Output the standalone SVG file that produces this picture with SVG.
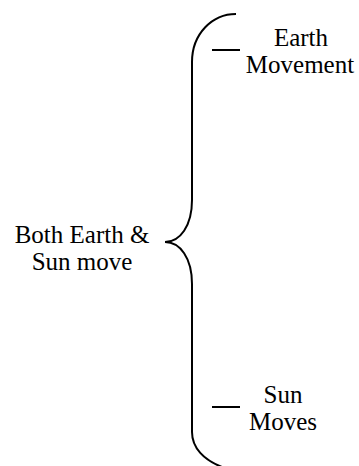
<svg xmlns="http://www.w3.org/2000/svg" width="359" height="466" viewBox="0 0 359 466">
<style>
text{font-family:"Liberation Serif","Times New Roman",serif;font-size:25px;fill:#000;text-anchor:middle}
.ln{fill:none;stroke:#000;stroke-width:2}
</style>
<rect width="359" height="466" fill="#fff"/>
<g id="connectors">
<path class="ln" d="M236,14 C212,14 192,34 192,62 L192,200 C192,226 180,242 165,242 C180,242 192,258 192,284 L192,432 C192,448 204,460 222,467"/>
<line class="ln" x1="212" y1="50" x2="240" y2="50"/>
<line class="ln" x1="212" y1="407" x2="240" y2="407"/>
</g>
<g id="root">
<text x="82" y="243">Both Earth &amp;</text>
<text x="82" y="270">Sun move</text>
</g>
<g id="earth">
<text x="301" y="46">Earth</text>
<text x="300" y="73">Movement</text>
</g>
<g id="sun">
<text x="283" y="403">Sun</text>
<text x="283" y="430">Moves</text>
</g>
</svg>
